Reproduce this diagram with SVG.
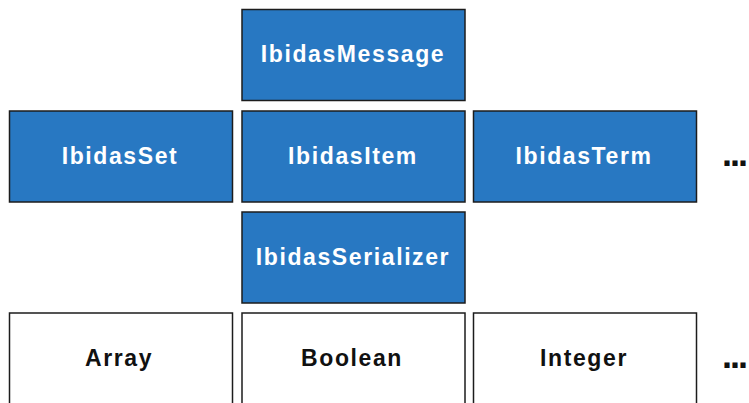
<svg xmlns="http://www.w3.org/2000/svg" width="749" height="403" viewBox="0 0 749 403">
  <style>
    .box { stroke: #1c1c1c; stroke-width: 1.5; }
    .blue { fill: #2878c2; }
    .plain { fill: #ffffff; }
    .lbl { font-family: "Liberation Sans", Arial, sans-serif; font-weight: bold; font-size: 23px; letter-spacing: 1.6px; text-anchor: middle; }
    .lbl-w { fill: #ffffff; }
    .lbl-k { fill: #111111; }
    .more { font-family: "Liberation Sans", Arial, sans-serif; font-weight: bold; font-size: 36px; fill: #111111; letter-spacing: -2px; }
  </style>
  <rect width="749" height="403" fill="#ffffff"/>

  <g id="node-message">
    <rect class="box blue" x="242" y="9.5" width="223" height="91"/>
    <text class="lbl lbl-w" x="353" y="62">IbidasMessage</text>
  </g>

  <g id="node-set">
    <rect class="box blue" x="9.5" y="111" width="223" height="91"/>
    <text class="lbl lbl-w" x="120" y="164">IbidasSet</text>
  </g>

  <g id="node-item">
    <rect class="box blue" x="242" y="111" width="223" height="91"/>
    <text class="lbl lbl-w" x="353" y="164">IbidasItem</text>
  </g>

  <g id="node-term">
    <rect class="box blue" x="473.5" y="111" width="223" height="91"/>
    <text class="lbl lbl-w" x="584" y="164">IbidasTerm</text>
  </g>

  <g id="node-serializer">
    <rect class="box blue" x="242" y="212" width="223" height="91"/>
    <text class="lbl lbl-w" x="353" y="265">IbidasSerializer</text>
  </g>

  <g id="node-array">
    <rect class="box plain" x="9.5" y="313" width="223" height="100"/>
    <text class="lbl lbl-k" x="119" y="366">Array</text>
  </g>

  <g id="node-boolean">
    <rect class="box plain" x="242" y="313" width="223" height="100"/>
    <text class="lbl lbl-k" x="352" y="366">Boolean</text>
  </g>

  <g id="node-integer">
    <rect class="box plain" x="473.5" y="313" width="223" height="100"/>
    <text class="lbl lbl-k" x="584" y="366">Integer</text>
  </g>

  <g id="more-marks">
    <text class="more" x="722" y="166">...</text>
    <text class="more" x="722" y="368">...</text>
  </g>

  <g id="connectors"></g>
</svg>
